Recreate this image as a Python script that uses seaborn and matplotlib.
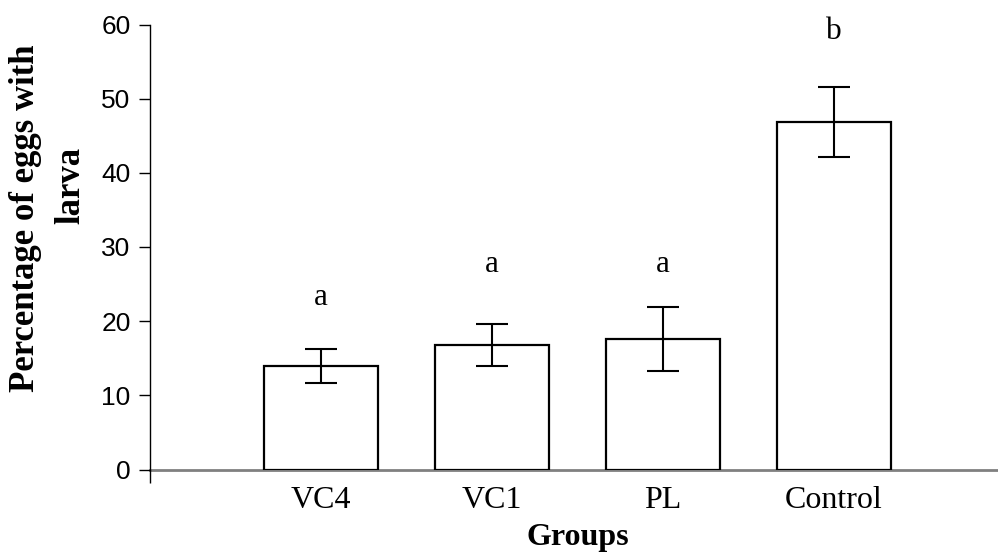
import matplotlib
matplotlib.use('Agg')
import pandas as pd
import matplotlib.pyplot as plt
import seaborn as sns

# Data
groups = ['VC4', 'VC1', 'PL', 'Control']
means = [13.95, 16.75, 17.6, 46.9]
errors = [2.3, 2.85, 4.3, 4.7]
letters = ['a', 'a', 'a', 'b']
letter_y = [23.2, 27.6, 27.6, 59.0]

df = pd.DataFrame({'Group': groups, 'Percent': means})

sns.set_style('white')
plt.rcParams['text.color'] = 'black'
plt.rcParams['axes.labelcolor'] = 'black'
plt.rcParams['xtick.color'] = 'black'
plt.rcParams['ytick.color'] = 'black'
serif = ['Liberation Serif', 'DejaVu Serif']
sans = ['Liberation Sans', 'DejaVu Sans']

fig = plt.figure(figsize=(9.98, 5.52), dpi=100)
ax = fig.add_axes([150 / 998, 82.5 / 552, 855 / 998, 445 / 552])

sns.barplot(data=df, x='Group', y='Percent', color='white', edgecolor='black',
            linewidth=1.6, width=0.667, saturation=1, errorbar=None, ax=ax)
ax.errorbar(range(len(groups)), means, yerr=errors, fmt='none', ecolor='black',
            elinewidth=1.5, capsize=11.5, capthick=1.5, zorder=5)

for i, (t, y) in enumerate(zip(letters, letter_y)):
    ax.text(i, y, t, ha='center', va='center', fontsize=22.5, family=serif)

ax.set_xlim(-1.0, 4.0)
ax.set_ylim(0, 60)
ax.set_yticks(range(0, 61, 10))
ax.set_yticklabels([str(v) for v in range(0, 61, 10)], family=sans, fontsize=19)
ax.set_xticks(range(len(groups)))
ax.set_xticklabels(groups, family=serif, fontsize=23)
ax.tick_params(axis='x', length=0, pad=12)
ax.tick_params(axis='y', direction='out', length=8, width=1, left=True, pad=6)
ax.set_xticks([-1.0], minor=True)
ax.tick_params(axis='x', which='minor', direction='out', length=9, width=1,
               bottom=True)

for s in ['top', 'right']:
    ax.spines[s].set_visible(False)
ax.spines['left'].set_color('black')
ax.spines['left'].set_linewidth(1.0)
ax.spines['bottom'].set_color('#808080')
ax.spines['bottom'].set_linewidth(2.0)
ax.spines['bottom'].set_zorder(0.5)

ax.set_xlabel('Groups', family=serif, fontsize=23, fontweight='bold', labelpad=6)
ax.set_ylabel('')

# y title, two lines as wrapped in the original
fig.text(26 / 998, 1 - 218 / 552, 'Percentage of eggs with', rotation=90,
         ha='center', va='center', family=serif, fontsize=25, fontweight='bold')
fig.text(71 / 998, 1 - 185 / 552, 'larva', rotation=90,
         ha='center', va='center', family=serif, fontsize=25, fontweight='bold')

fig.savefig('out.png', dpi=100)
